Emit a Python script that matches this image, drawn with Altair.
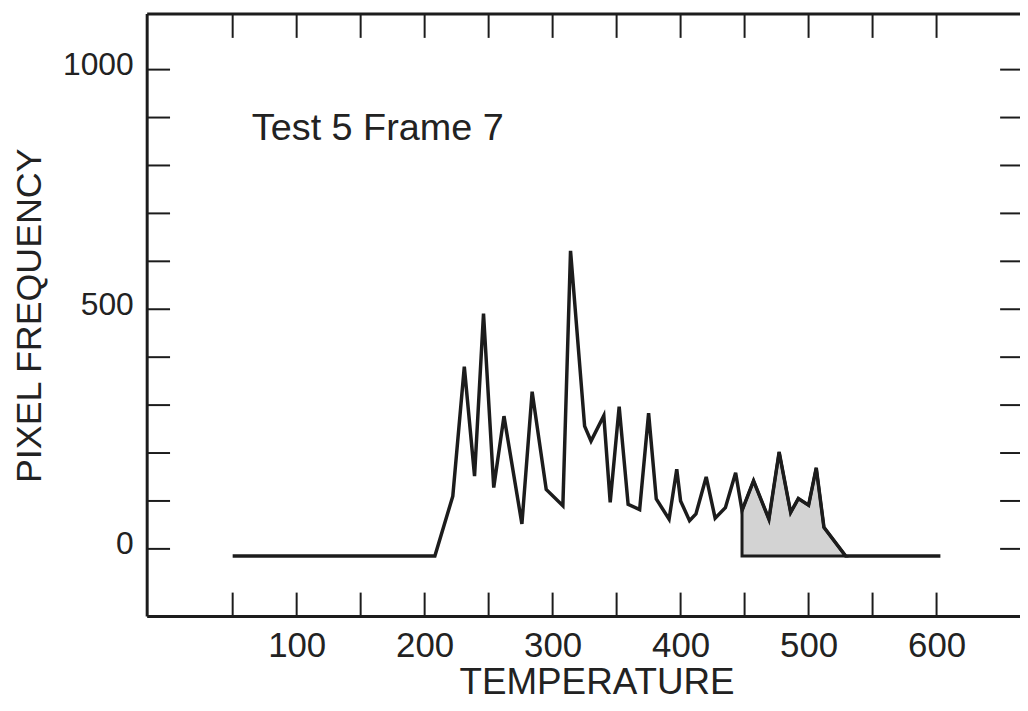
import altair as alt
import pandas as pd

# ---- data ----
temperature = [50, 208, 222, 231, 239, 246, 254, 262, 276, 284,
               295, 308, 314, 325, 330, 340, 345, 352, 359, 368,
               375, 381, 391, 397, 400, 407, 412, 420, 427, 435,
               443, 448, 457, 469, 477, 486, 492, 500, 506, 512,
               529, 603]
frequency = [-15, -15, 110, 380, 152, 491, 128, 277, 52, 328,
             124, 90, 622, 256, 225, 278, 97, 297, 93, 82,
             283, 104, 62, 166, 100, 59, 73, 150, 64, 86,
             159, 80, 142, 62, 202, 76, 105, 91, 169, 45,
             -15, -15]
shade_start = 448
shade_end = 529
baseline = -15

x_tick_values = [50, 100, 150, 200, 250, 300, 350, 400, 450, 500, 550, 600]
x_label_values = [100, 200, 300, 400, 500, 600]
y_tick_values = [0, 100, 200, 300, 400, 500, 600, 700, 800, 900, 1000]
y_label_values = [0, 500, 1000]
annotation = "Test 5 Frame 7"

FONT = "Liberation Sans"
INK = "#1c1c1c"

df = pd.DataFrame({"T": temperature, "F": frequency})
shade_df = df[(df["T"] >= shade_start) & (df["T"] <= shade_end)].copy()
shade_df["B"] = baseline
xt = pd.DataFrame({"T": x_tick_values})
yt = pd.DataFrame({"F": y_tick_values})
one = pd.DataFrame({"a": [0]})

W, H = 878, 606
xscale = alt.Scale(domain=[-16.8, 665.2], nice=False, zero=False)
yscale = alt.Scale(domain=[-141, 1116], nice=False, zero=False)

x_axis = alt.Axis(values=x_label_values, format="d", ticks=False, domain=False, grid=False,
                  labelFontSize=35, labelFont=FONT, labelColor="#222", labelPadding=12,
                  title="TEMPERATURE", titleFont=FONT, titleFontSize=37,
                  titleFontWeight="normal", titleColor="#222",
                  titleX=452, titleY=78, titleBaseline="alphabetic", titleAlign="center")
y_axis = alt.Axis(values=y_label_values, format="d", ticks=False, domain=False, grid=False,
                  labelFontSize=32, labelFont=FONT, labelColor="#222", labelPadding=14,
                  labelOffset=-5,
                  title="PIXEL FREQUENCY", titleFont=FONT, titleFontSize=36,
                  titleFontWeight="normal", titleColor="#222",
                  titleX=-107, titleY=303, titleAngle=270,
                  titleBaseline="alphabetic", titleAlign="center")

X = alt.X("T:Q", scale=xscale, axis=x_axis, title="TEMPERATURE")
Y = alt.Y("F:Q", scale=yscale, axis=y_axis, title="PIXEL FREQUENCY")

shade = alt.Chart(shade_df).mark_area(color="#d3d3d3", stroke=INK, strokeWidth=3).encode(
    x=X, y=Y, y2="B:Q",
)

line = alt.Chart(df).mark_line(color=INK, strokeWidth=3.5, strokeJoin="miter").encode(
    x=X, y=Y,
)

left_ticks = alt.Chart(yt).mark_rule(color=INK, strokeWidth=2).encode(
    y=Y, x=alt.value(0), x2=alt.value(23))
right_ticks = alt.Chart(yt).mark_rule(color=INK, strokeWidth=2).encode(
    y=Y, x=alt.value(858), x2=alt.value(W))
top_ticks = alt.Chart(xt).mark_rule(color=INK, strokeWidth=2).encode(
    x=X, y=alt.value(0), y2=alt.value(24))
bottom_ticks = alt.Chart(xt).mark_rule(color=INK, strokeWidth=2).encode(
    x=X, y=alt.value(H - 24), y2=alt.value(H))

frame_left = alt.Chart(one).mark_rule(color=INK, strokeWidth=3).encode(
    x=alt.value(0), y=alt.value(0), y2=alt.value(H))
frame_top = alt.Chart(one).mark_rule(color=INK, strokeWidth=3).encode(
    x=alt.value(0), x2=alt.value(W), y=alt.value(0))
frame_bottom = alt.Chart(one).mark_rule(color=INK, strokeWidth=3).encode(
    x=alt.value(0), x2=alt.value(W), y=alt.value(H))

label = alt.Chart(one).mark_text(text=annotation, font=FONT, fontSize=38, color="#222",
                                 align="left", baseline="alphabetic").encode(
    x=alt.X(datum=65, scale=xscale, axis=x_axis, title="TEMPERATURE"),
    y=alt.Y(datum=853, scale=yscale, axis=y_axis, title="PIXEL FREQUENCY"))

chart = alt.layer(
    shade, line, left_ticks, right_ticks, top_ticks, bottom_ticks,
    frame_left, frame_top, frame_bottom, label
).properties(
    width=W, height=H,
    autosize=alt.AutoSizeParams(type="none"),
    padding={"left": 140, "top": 4, "right": 0, "bottom": 85},
    background="white",
).configure_view(strokeWidth=0)

chart.save("out.html", embed_options={"renderer": "svg", "actions": False})
